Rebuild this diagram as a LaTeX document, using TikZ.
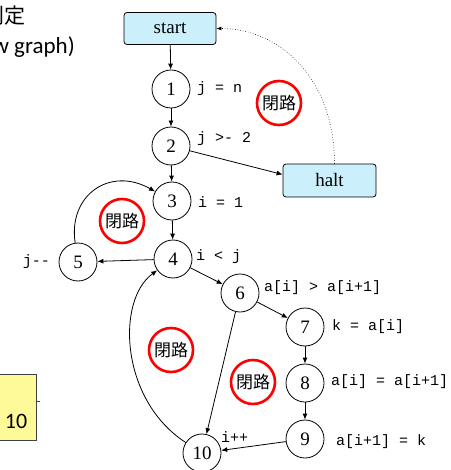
\documentclass[tikz,border=0pt]{standalone}
\usepackage{fontspec}
\setmainfont{Liberation Serif}
\newfontfamily\jpfont{Noto Sans CJK JP}
\newfontfamily\mymono{Liberation Mono}
\newfontfamily\mysans{Carlito}
\usetikzlibrary{arrows.meta}
\begin{document}
\begin{tikzpicture}[x=1pt,y=-1pt,
  st/.style={circle,draw,line width=0.8pt,minimum size=38pt,inner sep=0pt,font=\fontsize{19}{19}\selectfont},
  term/.style={draw,line width=0.8pt,rounded corners=3pt,fill=cyan!20,minimum width=92pt,minimum height=32pt,inner sep=0pt,font=\fontsize{19}{19}\selectfont},
  lbl/.style={anchor=west,inner sep=0pt,font=\mymono\fontsize{15}{15}\selectfont},
  loopmark/.style={circle,draw=red,line width=2.6pt,minimum size=44pt,inner sep=0pt,font=\jpfont\fontsize{17}{17}\selectfont},
  edge/.style={line width=0.8pt,-{Latex[length=6pt,width=5pt]}},
  title/.style={inner sep=0pt}]
\useasboundingbox (0,0) rectangle (450,470);
% header texts (cut off at the left edge, as in the reference)
\node[title,anchor=east,font=\jpfont\fontsize{21}{21}\selectfont] (hd1) at (26,16) {判定};
\node[title,anchor=base east,font=\mysans\fontsize{23}{23}\selectfont] (hd2) at (75,54) {(control flow graph)};
% yellow box
\node[draw=black!75,line width=0.8pt,fill=yellow!40,minimum width=40pt,minimum height=66pt,inner sep=0pt,anchor=north east] (yb) at (37,374) {};
\node[inner sep=0pt,font=\mysans\fontsize{22}{22}\selectfont] (ybt) at (16,421) {10};
\draw[line width=0.8pt,black!75] (yb.east) ++(0,-6) coordinate (tk) -- ++(3,0);
% nodes
\node[term] (start) at (170,28.5) {start};
\node[term,minimum width=93pt,minimum height=33pt] (halt) at (329.5,180.5) {halt};
\node[st] (n1) at (171,89) {1};
\node[st] (n2) at (171,146) {2};
\node[st] (n3) at (172,201) {3};
\node[st] (n4) at (173,259) {4};
\node[st] (n5) at (78,262) {5};
\node[st] (n6) at (240,293) {6};
\node[st] (n7) at (305,327) {7};
\node[st] (n8) at (305,383) {8};
\node[st] (n9) at (305,439) {9};
\node[st] (n10) at (202,453) {10};
% labels
\node[lbl] (l1) at (197,89) {j = n};
\node[lbl] (l2) at (197,139) {j >- 2};
\node[lbl] (l3) at (198,202) {i = 1};
\node[lbl] (l4) at (196,257) {i < j};
\node[lbl,anchor=east] (l5) at (50,262) {j--};
\node[lbl] (l6) at (264,288) {a[i] > a[i+1]};
\node[lbl] (l7) at (332,327) {k = a[i]};
\node[lbl] (l8) at (331,382) {a[i] = a[i+1]};
\node[lbl] (l9) at (336,442) {a[i+1] = k};
\node[lbl] (l10) at (221,437) {i++};
% loop marks
\node[loopmark] (c1) at (279,103) {閉路};
\node[loopmark] (c2) at (122,221) {閉路};
\node[loopmark] (c3) at (171,350) {閉路};
\node[loopmark] (c4) at (253,382) {閉路};
% edges
\draw[edge] (start) -- (n1);
\draw[edge] (n1) -- (n2);
\draw[edge] (n2) -- (n3);
\draw[edge] (n2) -- ([yshift=6pt]halt.west);
\draw[line width=0.6pt,dotted,-{Latex[length=5pt,width=4pt]}] ([xshift=5pt]halt.north) .. controls +(0,-84) and +(64,0) .. (start.east);
\draw[edge] (n3) -- (n4);
\draw[edge] (n4) -- (n5);
\draw[edge] (n5) .. controls +(-10,-67) and +(-62,-35) .. (n3);
\draw[edge] (n4) -- (n6);
\draw[edge] (n6) -- (n7);
\draw[edge] (n7) -- (n8);
\draw[edge] (n8) -- (n9);
\draw[edge] (n9) -- (n10);
\draw[edge] (n6) -- (n10);
\draw[edge] (n10) .. controls +(-82,-53) and +(-57,41) .. (n4);
\end{tikzpicture}
\end{document}
